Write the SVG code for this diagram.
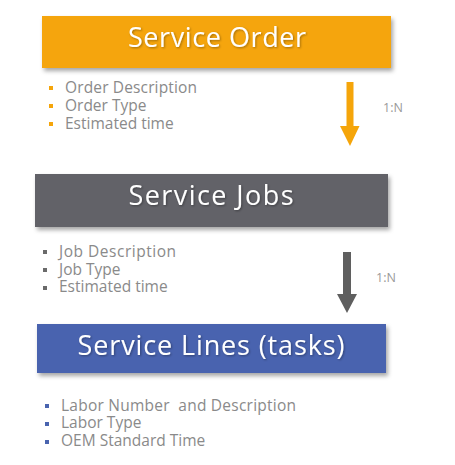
<svg xmlns="http://www.w3.org/2000/svg" width="455" height="465" viewBox="0 0 455 465">
<defs>
<filter id="sh" x="-10%" y="-20%" width="125%" height="160%">
<feDropShadow dx="2" dy="3" stdDeviation="2" flood-color="#000" flood-opacity="0.35"/>
</filter>
<filter id="tsh" x="-10%" y="-30%" width="120%" height="160%">
<feDropShadow dx="1" dy="1" stdDeviation="0.8" flood-color="#000" flood-opacity="0.35"/>
</filter>
</defs>
<style>
.title{font-family:"Open Sans","Liberation Sans",sans-serif;font-size:27px;fill:#fff;text-anchor:middle}
.item{font-family:"Open Sans","Liberation Sans",sans-serif;font-size:15.5px;fill:#8a8a8a;white-space:pre}
.card{font-family:"Open Sans","Liberation Sans",sans-serif;font-size:12.5px;fill:#999}
</style>
<rect width="455" height="465" fill="#fff"/>
<g id="service-order">
<rect x="42" y="16" width="349" height="52" fill="#F5A50A" filter="url(#sh)"/>
<text class="title" x="217" y="47" textLength="178" filter="url(#tsh)">Service Order</text>
<g fill="#F5A50A"><rect x="49" y="86" width="4" height="4"/><rect x="49" y="104" width="4" height="4"/><rect x="49" y="122" width="4" height="4"/></g>
<text class="item" x="65" y="93" textLength="132">Order Description</text>
<text class="item" x="65" y="111">Order Type</text>
<text class="item" x="65" y="129">Estimated time</text>
</g>
<g id="service-jobs">
<rect x="35" y="174" width="353" height="53" fill="#626268" filter="url(#sh)"/>
<text class="title" x="211" y="205" textLength="165" filter="url(#tsh)">Service Jobs</text>
<g fill="#6a6a6a"><rect x="43" y="250" width="4" height="4"/><rect x="43" y="268" width="4" height="4"/><rect x="43" y="286" width="4" height="4"/></g>
<text class="item" x="59" y="257" textLength="117">Job Description</text>
<text class="item" x="59" y="275">Job Type</text>
<text class="item" x="59" y="292">Estimated time</text>
</g>
<g id="service-lines">
<rect x="37" y="324" width="349" height="49" fill="#4A64AF" filter="url(#sh)"/>
<text class="title" x="211" y="355" textLength="267" filter="url(#tsh)">Service Lines (tasks)</text>
<g fill="#4A64AF"><rect x="45" y="404" width="4" height="4"/><rect x="45" y="422" width="4" height="4"/><rect x="45" y="440" width="4" height="4"/></g>
<text class="item" x="61" y="411" textLength="235">Labor Number  and Description</text>
<text class="item" x="61" y="428">Labor Type</text>
<text class="item" x="61" y="446">OEM Standard Time</text>
</g>
<g id="connectors">
<polygon points="346.5,82 353.5,82 353.5,126 359.5,126 350,146 340,126 346.5,126" fill="#F5A50A"/>
<text class="card" x="383" y="112">1:N</text>
<polygon points="343,252 351,252 351,294 357,294 347,313 337,294 343,294" fill="#5f5f5f"/>
<text class="card" x="376" y="282">1:N</text>
</g>
</svg>
